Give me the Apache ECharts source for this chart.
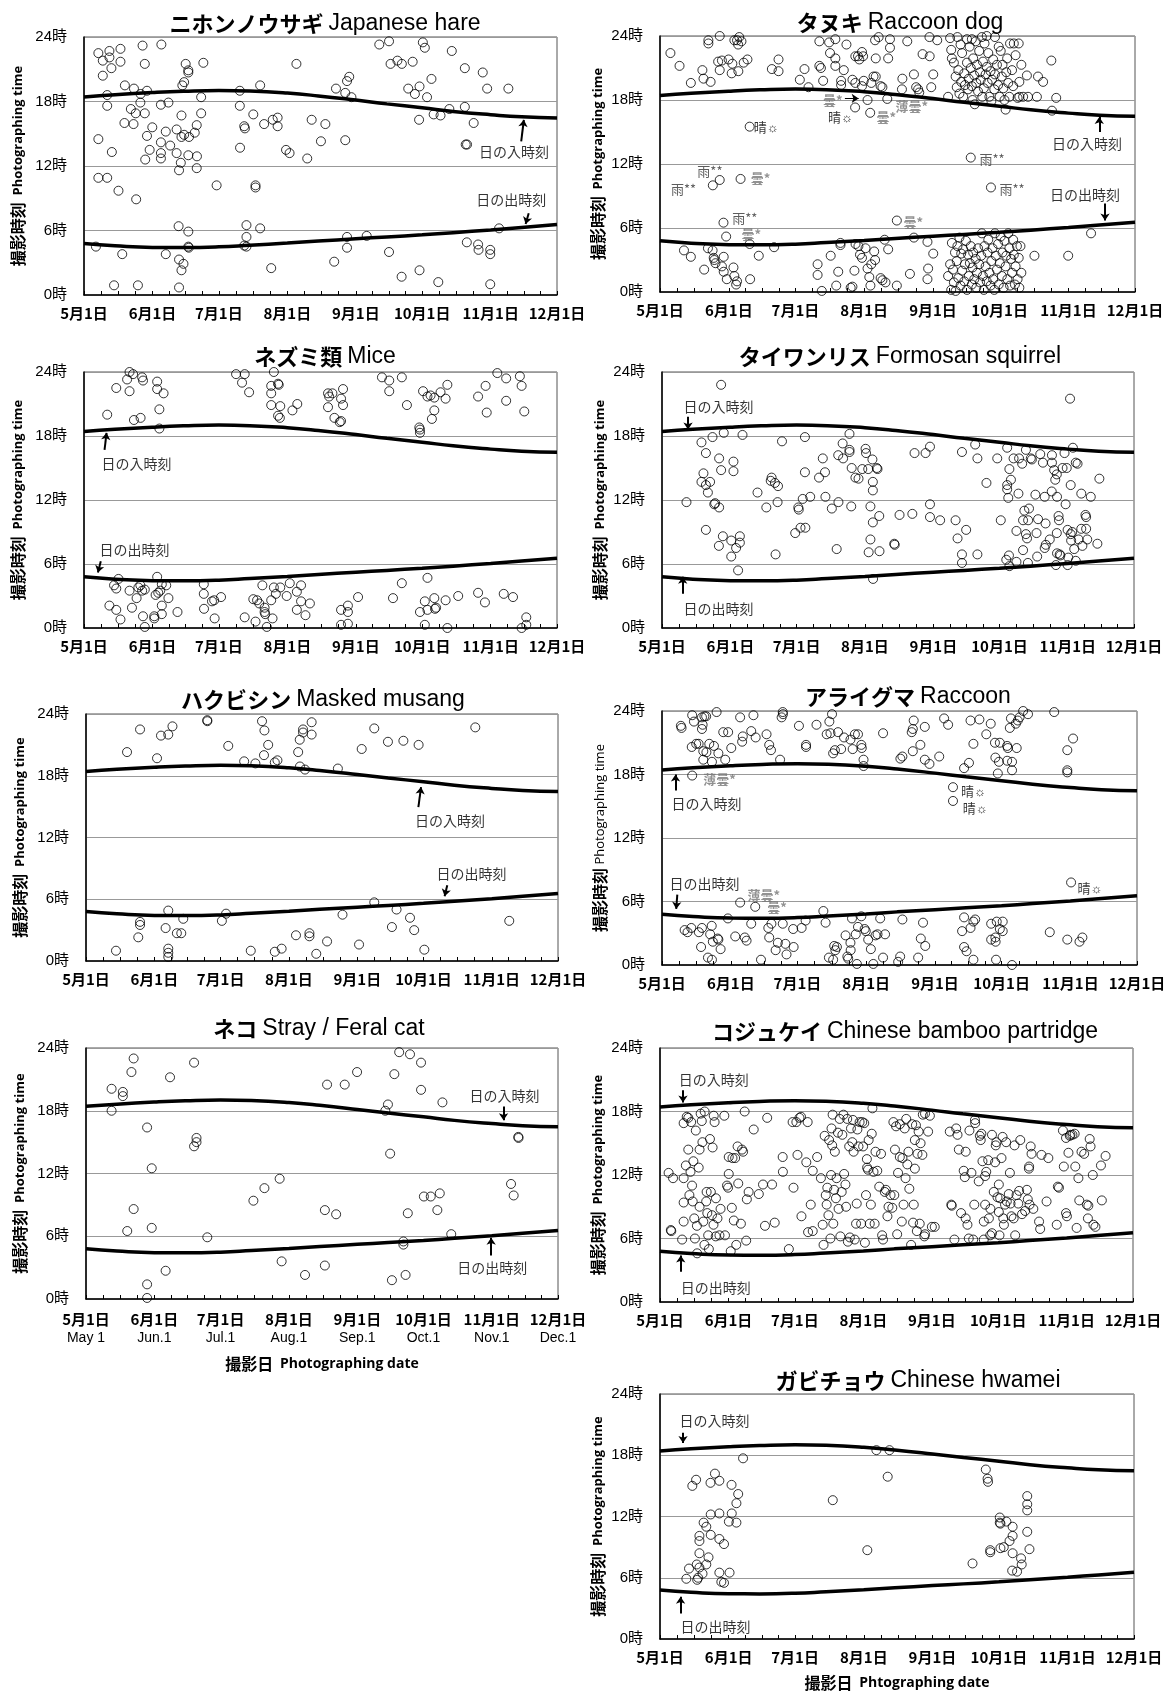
<!DOCTYPE html>
<html>
<head>
<meta charset="utf-8">
<script src="https://cdn.jsdelivr.net/npm/echarts@6/dist/echarts.min.js"></script>
<style>
  body { margin: 0; background: #fff; }
  #chart { width: 1172px; height: 1692px; }
</style>
</head>
<body>
<div id="chart"></div>
<script>
// x = days counted from May 1, y = hour of day
const monthDays = [0, 31, 61, 92, 123, 153, 184, 214];
const monthLabels = ['5月1日', '6月1日', '7月1日', '8月1日', '9月1日', '10月1日', '11月1日', '12月1日'];
const monthLabelsEn = ['May 1', 'Jun.1', 'Jul.1', 'Aug.1', 'Sep.1', 'Oct.1', 'Nov.1', 'Dec.1'];

const sunDays = [0, 14, 31, 45, 61, 75, 92, 106, 123, 137, 153, 167, 184, 198, 214];
const sunsetHours = [18.42, 18.63, 18.83, 18.95, 19.02, 18.97, 18.78, 18.52, 18.13, 17.78, 17.42, 17.08, 16.77, 16.57, 16.47];
const sunriseHours = [4.8, 4.58, 4.43, 4.42, 4.48, 4.63, 4.83, 5.02, 5.23, 5.4, 5.6, 5.8, 6.05, 6.28, 6.55];

const hare = [
  [6.5,22.5],[8.5,21.8],[11.5,22.7],[11.5,22.1],[12.4,21.1],[16.5,22.9],[16.5,21.7],[8.5,20.4],[26.5,23.2],[27.5,21.5],
  [35,23.3],[18.5,19.5],[22.6,19.2],[25.6,18.7],[28.5,19],[10.5,18.6],[10.5,17.6],[25.5,17.9],[21.2,17.3],[23.4,16.9],
  [27.5,16.9],[18.3,16],[22.4,15.9],[30.9,15.6],[28.5,14.8],[34.8,17.7],[38.2,17.9],[37,15.2],[34.8,14.2],[39,13.9],
  [34.8,13.2],[34.8,12.7],[41.9,13.2],[41.9,15.4],[44.1,16.7],[29.7,13.5],[27.7,12.6],[12.6,13.3],[6.5,14.5],[6.5,10.9],
  [10.5,10.9],[15.6,9.7],[23.6,8.9],[44.1,14.7],[45.3,14.9],[47.5,14.7],[50.1,15.1],[51,15.8],[47.2,13],[51.1,12.9],
  [43.8,12.3],[43,11.6],[51,11.8],[44.5,19.5],[45.3,19.8],[46,21.5],[47.2,20.9],[47.2,20.7],[54,21.6],[53,18.4],
  [53,16.9],[60,10.2],[70.5,19],[70.5,17.6],[70.6,13.7],[72.5,15.7],[72.8,15.5],[76.6,16.8],[77.6,10.2],[77.6,10],[79.7,19.5],
  [81.5,15.9],[85.4,16.3],[87.6,16.5],[87.6,15.7],[91.4,13.5],[93,13.2],[96.1,21.5],[101,12.7],[103,16.3],[107.2,14.3],
  [109.2,15.9],[114,19.2],[118.2,18.8],[118.2,14.4],[119,19.9],[120,20.3],[121,18.4],[133.6,23.3],[138,23.6],[138.7,21.5],
  [141.8,21.8],[143.8,21.5],[148.7,21.7],[153.3,23.5],[154.2,23],[146.7,19.2],[149.7,18.7],[151.8,19.4],[155.2,18.4],[157.2,20.1],
  [151.6,16.3],[158.2,16.8],[161.3,16.7],[165.3,17.3],[166.4,22.7],[172.3,21.1],[172.3,17.5],[172.7,14],[173.3,14],[176.3,16],
  [180.4,20.7],[182.4,19.2],[192,19.2],
  [5.4,4.5],[13.6,0.9],[17.3,3.8],[24.4,0.9],[37,3.8],[42.8,6.4],[43,3.3],[44.1,2.3],[45,2.9],[47.2,5.9],
  [47.2,4.5],[47.4,4.4],[43,0.7],[73.5,6.5],[73.5,5.4],[73.5,4.5],[72.5,4.6],[79.7,6.2],[84.7,2.5],[113.2,3.1],[119,5.4],
  [119,4.4],[127.9,5.5],[138,4],[143.7,1.7],[151.8,2.3],[160.3,1.2],[173.2,4.9],[178.3,4.7],[178.5,4.2],[183.8,4.2],
  [183.8,3.8],[183.8,1],[187.8,6.2]
];

const tanuki = [
  [4.7,22.4],[8.8,21.2],[13.9,19.6],[19.1,20.8],[19.6,20],[22.8,19.7],[21.8,23.6],[21.8,23.3],[26.9,24],[26.2,21.6],
  [27.9,21.7],[26.9,20.8],[30.9,21.8],[32.6,21.4],[32.3,20.5],[35.3,20.7],[33.5,23.6],[34.7,23.6],[35.7,23.9],[35.2,23.2],
  [36.7,23.5],[37.7,21.5],[39.4,21.8],[50.4,20.9],[53.4,21.8],[53.4,20.7],[63,19.9],[65.1,20.9],[66.9,19.2],[71.8,23.5],
  [71.8,21.2],[72.5,21],[73.5,19.8],[76.2,23.4],[76.6,22.4],[79,23.7],[79,21.9],[79,21.2],[81.6,19.8],[81.6,19.4],
  [82.8,20.8],[84,23.2],[86.7,19.9],[88,22.1],[88,19.6],[89.2,22.1],[89.8,21.8],[91,22.5],[91.5,22.1],[91.8,19.8],
  [91,19.3],[95.2,19.6],[96.2,20.2],[96.9,23.6],[97.2,20.2],[97.2,21.9],[98.5,23.9],[99.4,19.3],[100.2,19.2],[102.8,21.9],
  [103.6,23.7],[103.6,22.9],[109.2,20],[109,19],[111.4,23.5],[114.4,20.4],[115.4,19.2],[116.3,19],[116.8,18.7],[118.3,22.3],
  [121.5,22.1],[121.4,23.9],[122.2,19.2],[123.1,20.4],[124.9,23.6],[93.5,18],[102.4,18.1],[87.9,17.3],[94.7,16.8],
  [129.8,18.3],[130.7,23.8],[131.2,22.7],[131.5,21.9],[132.4,21.5],[133.2,20.2],[133.7,19.2],[134,23.9],[134.4,20.8],[134.9,18.6],
  [135.4,23.2],[135.7,19.7],[136.1,22.4],[136.6,18.3],[137.1,20.5],[137.4,19.4],[138.3,23.7],[138.3,21.5],[138.8,19],[139.1,20],
  [139.5,23],[140,21],[140.5,23.7],[140.5,19.3],[140.8,18],[141.1,21.9],[141.6,20.3],[141.8,17.6],[142.2,23.5],[142.5,19.6],
  [142.8,21.3],[143.3,18.8],[143.8,22.6],[144.2,20.6],[144.5,19.9],[145,23.9],[145.2,18.3],[145.5,21.6],[145.9,19.1],[146.2,23.3],
  [146.7,20.4],[147.2,24],[147.2,21.1],[147.6,19.6],[147.9,22.4],[148.4,18.3],[148.9,20.7],[149.3,17.9],[149.6,19.9],[150.1,21.8],
  [150.6,19],[150.9,23.9],[150.9,20.4],[151.8,21.3],[152.3,19.4],[152.6,23],[153,18.3],[153.5,22.6],[154,20.2],[154.3,21.3],
  [154.7,19.1],[155.2,18],[155.7,17.1],[156,20.6],[156.4,21.9],[156.9,19.6],[157.4,18.3],[157.7,23.3],[158.6,20.8],[159.1,19.3],
  [159.4,23.3],[160.2,22.2],[161.1,18.2],[161.6,23.3],[161.9,19.7],[162.8,21.3],[163.6,18.3],[161.9,18.3],[165.8,18.3],[165.3,20.3],
  [169.8,18.3],[170.3,20.2],[172.6,19.7],[176.3,21.7],[176.6,17],[178.5,18.2],
  [40.4,15.5],[23.8,10],[26.9,10.5],[36.3,10.6],[28.6,6.5],[29.8,5.2],[106.7,6.7],[140,12.6],[149.1,9.8],
  [10.8,3.9],[13.9,3.3],[19.9,2.1],[21.6,4.1],[23.7,3.9],[24.2,3.2],[24.5,3],[25,2.7],[27.9,2.4],[28.7,3.3],
  [28.7,1.9],[30.1,1.2],[33.1,2.3],[33.5,1.5],[34.3,0.7],[34.7,1],[40.4,4.5],[40.6,1.2],[44.5,3.4],[51.4,4.2],
  [71,2.6],[71,1.6],[72.9,0.1],[76.9,3.4],[79.4,0.6],[80.3,1.9],[81.3,4.4],[81.3,4.6],[85.9,0.4],[86.7,0.5],
  [87.6,2],[88.1,4.5],[89.4,4.3],[90.1,3.5],[91,3.2],[92.6,4.1],[93.5,2.2],[94.3,1.4],[94.8,0.6],[95.2,2.6],
  [96.5,3.8],[96.9,3],[99.4,1.3],[100.2,1.1],[101.6,0.9],[102.8,4],[101.2,4.9],[106.7,0.6],[112.6,1.7],[114.4,5.1],
  [120.5,4.7],[120.8,2.2],[120.5,1.2],[123.1,3.6],
  [129.8,1.5],[130.7,2.6],[131.2,0.2],[131.5,4.6],[132,2.1],[132.4,0.9],[132.9,3.7],[133.2,0.1],[133.7,2.9],[134,4.3],
  [134.4,1.3],[134.9,5.1],[135.4,0.6],[135.7,3.6],[136.1,2],[136.6,4],[137.1,1],[137.4,2.6],[137.8,4.8],[138.3,0.2],
  [138.8,3.5],[139.1,1.5],[139.6,2.7],[140,4.3],[140.5,0.7],[140.8,2.3],[141.1,3.7],[141.6,1.2],[142.2,3.1],[142.5,0.4],
  [142.8,1.8],[143.3,4.1],[143.8,2.6],[144.2,0.9],[144.7,3.4],[145,5.5],[145.5,1.5],[145.9,0.2],[146.2,4.3],[146.7,2.4],
  [147.2,1],[147.6,3.7],[147.9,4.9],[148.4,1.8],[148.9,0.6],[149.3,2.9],[149.8,4.1],[150.1,1.2],[150.6,0.2],[150.9,5.5],
  [151.3,3.4],[151.8,2.1],[152.3,4.5],[152.6,0.7],[153.1,2.7],[153.5,5.2],[154,1.5],[154.3,3.7],[154.8,0.4],[155.2,4.8],
  [155.7,2.4],[156,3.4],[156.5,1.2],[156.9,5.5],[157.4,4.1],[157.7,0.6],[158.2,3.1],[158.6,1.8],[159.1,4.9],[159.4,3.5],
  [159.9,0.7],[160.2,2.4],[160.8,4.3],[161.1,1.2],[161.6,3.2],[161.9,0.4],[162.4,4.3],[162.8,1.8],
  [168.7,3.4],[183.9,3.4],[194.2,5.5]
];

const mice = [
  [10.5,20],[14.6,22.5],[19.5,23.3],[20.6,24],[20.6,22.2],[22.2,23.8],[22.6,19.5],[25.6,19.7],[26.3,23.5],[26.7,23.2],
  [33.1,23.1],[33.1,22.4],[36,22],[34.1,20.5],[34.1,18.7],[68.8,23.8],[71.5,23],[72.7,23.8],[74.7,22.1],[84.7,22.7],
  [84.7,22],[85.9,24],[87.8,22.9],[88.1,22.8],[84.7,20.9],[88.8,20.8],[87.8,19.9],[88.6,19.7],[94.3,20.4],[96.5,21],
  [110.4,22],[110.9,21.7],[112.4,22],[110.4,20.7],[117.2,22.4],[116.3,21.5],[117.2,20.9],[113.3,19.7],[115.7,19.3],[116.3,19.4],
  [134.8,23.5],[138.1,23.2],[143.8,23.5],[138.1,22.2],[146.1,20.9],[153.4,22.2],[155.4,21.7],[156.8,21.8],[158.5,21.6],[161.3,22.1],
  [164.4,22.8],[163.6,21.5],[158.5,20.4],[157.4,19.6],[151.7,18.8],[152,18.6],[152,18.3],[178.3,21.7],[181.7,22.7],[182.2,20.2],
  [187,23.9],[191,23.4],[191,21.3],[197.2,23.6],[198,22.7],[199.2,20.3],
  [11.5,2.1],[14.6,1.7],[16.5,0.8],[13.6,4],[14.6,3.7],[15.6,4.6],[20.6,3.5],[21.7,1.9],[23.8,2.8],[24.6,3.8],
  [25.5,4],[26.3,3.5],[27.5,3.6],[26.7,1.1],[27.5,0.1],[31.8,1.1],[31.8,0.9],[33.1,4.8],[32.4,3.1],[33.6,3.3],
  [34.5,3.5],[35.2,4.1],[35.2,2.1],[35.2,1.3],[37.2,4],[38.2,2.8],[42.3,1.5],[54.2,4.1],[54.2,3.2],[54.3,1.8],
  [57.9,2.5],[58.9,2.6],[59.1,0.9],[62,2.9],[72.7,1],[76.6,2.7],[77.6,0.6],[78.3,2.6],[79.3,2.3],[80.7,4],
  [81.7,1.9],[81.7,1.5],[82,1.3],[82.7,0.1],[84.7,2.6],[85.3,0.9],[85.9,3.8],[86.8,3.2],[88.8,3.8],[91.7,3],
  [93.1,4.2],[96.3,3.4],[96.3,1.7],[98.2,4],[98.2,2.5],[100.2,1.2],[102.2,2.3],[116.3,1.7],[116.3,0.3],[119.4,2.1],
  [119.4,1.5],[119.4,0.4],[124,2.9],[139.8,2.8],[143.8,4.2],[152,1.5],[154.2,0.3],[154.2,2.5],[155.4,4.7],[155.4,1.7],
  [158.5,2.8],[158.8,1.8],[159.3,1.9],[163.6,2.6],[164.4,0],[169.3,3],[178.3,3.3],[181.4,2.4],[189.9,3.2],[194.1,2.9],
  [198,0],[200.1,1],[200.1,0.3]
];

const squirrel = [
  [26.8,22.8],[11.1,11.8],[17.9,17.4],[19.9,16.4],[22.9,17.9],[28,18.3],[36.5,18.1],[25.9,15.9],[26.8,14.8],[32.4,15.6],
  [32.4,14.7],[17.9,13.7],[18.8,14.5],[19.9,13.4],[20.8,12.7],[21.8,13.7],[23.7,11.6],[24.1,11.7],[25.9,11.3],[19.9,9.2],[27.6,8.6],
  [25.8,7.7],[31.4,8.2],[31.4,6.7],[33.6,7.5],[35.3,8.6],[35.3,8],[34.5,5.4],[43.3,12.7],[47.3,11.3],[49.3,13.8],
  [49.7,14.1],[51.2,13.6],[52.6,13.3],[52.4,11.8],[51.5,6.9],[54.4,17.5],[60.4,8.9],[61.8,11.3],[62,11.1],[62.8,9.4],[63.8,12.1],
  [64.8,17.9],[64.8,14.6],[65,9.4],[67.2,12.3],[71.2,14.1],[72.9,15.9],[73.9,14.6],[74.1,12.3],[77,11.2],[79.2,7.4],
  [79.9,16.2],[80,11.8],[81.9,17.3],[82.1,15.9],[85,18.2],[85,16.7],[85,16.5],[86,15],[85.8,11.4],[87.7,14.1],
  [89.1,14],[90.8,14.9],[92.3,16.8],[92.5,16.4],[93.5,14.9],[93.7,7.1],[94.5,8.3],[94.5,11.4],[95.4,15.8],[95.6,13.7],
  [95.6,12.9],[95.6,9.9],[95.7,4.6],[97.4,15],[97.7,14.9],[98.5,10.5],[98.6,7.2],[105.3,7.9],[105.5,7.8],[107.7,10.6],[113.5,10.7],
  [114.5,16.4],[119.5,16.4],[121.5,17],[121.5,11.6],[121.5,10.4],[126.1,10.1],[133.1,10.1],[134,8.4],[136,16.5],[136,6.9],
  [136,6.1],[137.9,9.2],[142,17.2],[143,15.9],[143,6.9],[147.1,13.6],[152,15.9],[153.6,10.1],[156.5,16.9],[157.5,14.9],
  [156.5,13.4],[156.5,13],[157,12.2],[156.1,6.4],[157.3,6.8],[157.5,5.8],[158.2,13.9],[159.4,15.9],[160.7,9.1],[160.7,6.2],
  [161.6,12.6],[161.9,15.9],[163.3,15.4],[163.7,7.3],[163.7,10.1],[164.3,11],[165,16.7],[165,8.8],[165.5,8.4],[165.9,6.1],
  [166,10.1],[166.4,11.2],[167.2,15.9],[167.7,15.8],[169.3,12.5],[169.8,8.9],[170.1,6.7],[170.5,10.2],[171.5,16.3],[172.7,15.5],[173.5,12.3],
  [173.9,9.8],[174,7.8],[173.5,7.5],[175.8,8.3],[176.7,12.8],[176.8,16.2],[176.8,15.5],[177.8,14.8],[178.3,13.9],[179,14.4],
  [179,8.9],[179.1,7],[178.6,5.9],[179.1,12.3],[179.8,10.5],[180,10.1],[180.3,6.9],[180.6,6.8],[181.6,15],[182.5,16.4],[183,11.6],
  [183.5,15],[183.9,9.2],[183.9,5.9],[184.2,6.6],[185,21.5],[185.3,13.4],[185.3,8.8],[185.5,8.2],[186.3,16.9],[186,9],
  [186.9,7.4],[187.6,15.5],[187.6,6.3],[188.4,15.4],[188.9,8.3],[190.1,12.6],[190.1,9.3],[190.6,7.7],[192,10.6],[192.3,10.4],[192.3,9.3],
  [192.8,8.3],[194.4,12.3],[197.4,7.9],[198.3,14]
];

const musang = [
  [18.6,20.3],[24.5,22.5],[32.2,19.7],[34,21.9],[37.3,22],[39.2,22.8],[55,23.4],[55,23.3],[64.5,20.9],[71.7,19.4],[76.8,19.2],
  [79.8,23.3],[80.9,22.4],[80.7,20],[82.6,21],[85.6,19.3],[86.8,19.5],[96.2,20.3],[96.9,21.5],[98.4,22.5],[98.4,22.2],
  [97,18.9],[99.3,18.6],[102.3,23.2],[102.3,22],[114.2,18.7],[125,20.6],[130.7,22.6],[136.9,21.3],[143.9,21.4],[150.8,21],
  [176.5,22.7],
  [13.6,1],[23.7,2.3],[24.5,3.8],[24.5,3.5],[36.1,3.2],[37.3,4.9],[37.3,1.2],[37.3,0.8],[37.3,0.4],[41.2,2.7],
  [43.2,2.7],[44.1,4.1],[61.6,3.9],[63.5,4.6],[74.7,1],[85.6,0.9],[88.7,1.2],[95.2,2.5],[101.3,2.7],[101.3,2.4],
  [104.4,0.7],[109.3,1.9],[116.3,4.5],[123.8,1.6],[130.7,5.7],[138.7,3.3],[140.8,5],[146.9,4.2],[148.8,3],[153.4,1.1],
  [191.9,3.9]
];

const raccoon = [
  [8.5,22.6],[8.8,22.4],[13.6,23.6],[14.4,23],[18,23.4],[19.1,23.5],[19.9,23.5],[18.3,22.7],[18,22.3],[13.4,20.6],[15.4,20.9],
  [16.5,20.9],[18.6,20.2],[20,20.1],[21.3,20.9],[23.4,20.7],[18.6,19.4],[22.5,19.2],[25.4,20],[27.6,22],[29.8,22],
  [28.5,19.4],[31.2,20.5],[24.6,23.9],[35.2,23.4],[36.1,21.1],[36.4,21.6],[40.2,22.1],[41.2,23.6],[42.2,21.5],[47.1,21.8],
  [48.3,20.8],[49.1,20.3],[53.2,19.4],[53.9,23.4],[54.4,23.9],[54.5,23.7],[61.7,22.6],[64.9,20.8],[64.9,20.6],[69.6,22.7],[74.2,21.8],
  [75.4,23],[75.9,21.9],[76.6,23.7],[77.1,20],[77.9,20.3],[79.3,22],[80.7,20.4],[82,21.5],[84.9,21.3],[85.9,20.4],
  [86.9,21.8],[88.3,21.8],[89.8,20.8],[90,20.5],[90.8,19.4],[90.8,18.8],[99.6,21.9],[107.4,19.5],[108.3,19.7],[113,20.2],
  [113.4,23.1],[112.5,22],[113,22.3],[116.4,20.8],[118.4,22.5],[118.4,19.4],[120.5,19],[124.9,19.7],[127.1,23.3],[128.9,22.7],
  [136.1,18.6],[138.3,19.1],[139,23.1],[140.3,20.9],[143,23.2],[146.1,21.8],[148.1,22.8],[150,21],[150.2,19.6],[151.3,18.1],
  [151.8,19.2],[152.2,21],[155.5,20.7],[155.8,20.5],[155.5,19.3],[156.7,22.4],[157.2,23.3],[157.7,18.4],[157.7,19.2],[159.4,22.8],
  [160.3,23.1],[159.8,20.5],[161.1,23.4],[162.7,24],[164.9,23.7],[176.7,23.9],[182.6,20.3],[182.6,18.4],[182.6,18.2],[185.2,21.4],
  [13.6,17.9],[131.1,16.8],[131.1,15.5],[184.3,7.8],[35.2,5.9],[42,5.5],
  [10.2,3.3],[11.5,3.1],[13.2,3.5],[18,3.5],[16.6,3.1],[17.6,1.7],[20.7,0.7],[22.5,0.5],[22.4,3.7],[21.7,2.9],
  [22.9,2.2],[25.4,2.4],[25.1,2.5],[26.4,1.5],[29.7,4.4],[33,2.7],[37.3,2.6],[38.1,2.3],[40.2,3.9],[44.6,0.5],
  [47.9,3.5],[48.3,2.6],[49.3,3.9],[51.2,1.4],[52.2,2.1],[54.4,3.9],[55.6,2],[56.1,1],[59.3,1.7],[59.1,3.4],
  [62.9,3.5],[64.7,4.2],[72.7,5.1],[73.7,4],[75.2,0.7],[77.1,0.5],[77.6,1.8],[78.1,1.4],[78.8,1.7],[82.7,2.8],
  [83.5,0.8],[83.9,0.6],[84.9,2.1],[85,1.4],[85.6,4.4],[87.3,2.9],[87.8,0.1],[88.3,3.6],[89.8,4.6],[91.3,3.4],
  [91.8,3.2],[92.9,2.4],[94.1,1.5],[95.2,0.1],[96.2,2.8],[97.1,2.9],[98.3,4.4],[99.6,0.7],[100.5,2.9],[106.4,0.3],
  [107.3,0.8],[108.3,4.3],[115.4,0.7],[116.6,2.5],[117.6,4],[118.6,1.8],[135.2,3.2],[136.1,4.5],[136.1,1.7],[137.2,1.3],
  [139,3.5],[140.3,4.1],[141.1,4.3],[140.3,0.5],[148.3,3.9],[148.3,2.4],[150.2,2.6],[150.3,2.2],[150.5,0.5],[150.8,4.1],
  [152.2,3.4],[153.5,4.1],[153.5,3.2],[157.7,0],[174.7,3.1],[182.6,2.4],[188.1,2.2],[189.4,2.6]
];

const cat = [
  [11.6,20.1],[11.6,18],[16.7,19.8],[16.7,19.4],[20.6,21.7],[21.6,23],[21.6,8.6],[18.7,6.5],[27.7,16.4],[29.8,12.5],
  [29.8,6.8],[27.7,1.4],[27.7,0.1],[36.1,2.7],[38.1,21.2],[49,22.6],[49,14.6],[50.1,15.4],[50.1,15],[55,5.9],
  [75.9,9.4],[80.9,10.6],[87.8,11.5],[88.7,3.6],[99.3,2.3],[108.3,3.2],[108.3,8.5],[109.3,20.5],[113.4,8.1],[117.3,20.5],
  [122.9,21.7],[135.7,18],[136.9,18.6],[137.9,13.9],[138.7,1.8],[139.8,21.5],[142,23.6],[143.9,5.5],[143.9,5.2],[144.9,2.3],
  [145.9,8.2],[146.9,23.4],[151.9,22.6],[151.9,20],[153.2,9.8],[156.3,9.8],[159.3,8.5],[160.4,10.1],[161.6,18.8],[165.6,6.2],
  [192.7,11],[193.9,9.9],[196,15.5],[196.1,15.4]
];

const partridge = [
  [3.9,12.2],[5.9,11.7],[4.9,6.8],[5.1,6.7],[10,5.9],[10.7,11.7],[10.7,16.9],[12.1,17.5],[12.8,17.4],[10.7,9.4],[10.7,7.6],
  [11.7,12.9],[12.8,14.4],[13.3,10.1],[13.8,12.3],[14.1,17],[14.5,11],[14.8,9.5],[15.1,13.3],[15.5,7.9],[15.8,6],
  [16.2,16.2],[16.7,7.2],[16.8,4.6],[17.5,12.7],[17.9,14.4],[17.9,9],[18.4,17.8],[18.9,17.1],[19.2,15.1],[19.6,7.6],
  [20.1,5.4],[20.2,18],[20.9,9.5],[21.1,10.4],[21.4,8.4],[21.8,6.3],[22.1,5],[22.6,15.4],[23,10.4],[23.5,8.2],
  [23.8,14.6],[24.2,7.3],[24.3,17.6],[24.7,17],[25.2,6.2],[25.3,9.8],[26,7.9],[26.9,6.3],[27.4,8.8],[29.1,17.6],
  [29.4,6.3],[30.3,11],[30.8,10.8],[31.1,13.7],[32,4.8],[31.1,12.1],[32.5,8.9],[32.8,13.6],[33.4,7.7],[34,13.6],
  [34.5,5.4],[35.4,11.2],[35.1,14.7],[37.1,14.4],[37.6,14.2],[39,5.8],[39.3,9.7],[36.6,7.4],[38.3,18],[40.1,10.4],
  [42.4,16.3],[44.7,10.2],[46.6,11.1],[47.5,7.2],[48.5,17.4],[50.7,11.1],[51.9,7.5],[55.6,12.3],[55.5,13.7],[58.3,5],
  [60.4,10.8],[60,17],[61.7,17],[62.2,13.9],[63.1,17.4],[63.8,17.5],[64,8.1],[66.2,13.2],[66.8,17],[67,6.6],[68.2,9.2],
  [69.1,12.4],[69.1,6.7],[71.1,13.7],
  [72.8,11.7],[73.6,7.3],[74,5.4],[74.5,15.7],[75,10.1],[75.4,9.2],[75.7,10.8],[76.2,8.2],[76.5,15.3],[77.1,6],
  [77.4,12],[77.6,16.4],[77.9,14.8],[78.4,7.4],[78.1,17.7],[78.8,10.6],[79.1,14.2],[79.6,9.8],[79.9,11.7],[80.5,16],
  [80.8,8.8],[81.3,17.3],[81.6,6.2],[82.2,10.4],[82.5,15.8],[83,17.7],[83.3,12.1],[83.9,11.1],[84.2,9],[84.7,17.3],
  [85,5.7],[85.6,14.7],[85.9,6.1],[86.4,16.4],[87,15.1],[87.3,17.2],[87.6,14.2],[88.1,5.9],[88.7,7.4],[89,9.3],
  [89.3,16.3],[89.8,14.7],[90.3,17],[91,7.4],[91.5,17],[91.9,14.7],[92.4,16.9],[92.7,5.6],[93.2,10.1],[93.6,13.5],
  [93.7,12.7],[94.1,12.5],[94.4,15.3],[94.9,7.4],[95.4,9.2],[95.8,15.9],[96.1,18.3],[96.6,12.3],[97.1,7.4],[97.5,14.2],
  [98.3,12.4],[99.2,10.9],[100,14],[100.5,6.3],[100.9,5.9],[101.7,10.4],[102.2,10.6],[102.9,8.1],[103.4,9],[104.3,10.1],
  [105.1,8.9],[105.6,17],[106,10.1],[106.3,14.4],[106.8,16.6],[107.3,6.4],[107.7,12.2],[108.5,13.7],[108.5,16.8],[109.4,7.6],
  [109.7,13.6],[110.2,9.2],[110.7,16.4],[111.1,11.7],[111.4,17.3],[111.9,13],[112.4,14.2],[112.8,10.7],[113.6,5.4],[114.1,16.8],
  [114.5,7.5],[114.8,9.2],[115.3,15.3],[115.3,12.6],[115.8,16.7],[116.2,6.7],[116.5,14],[117,16.1],[117.5,7.4],[117.9,15],
  [118.7,13.9],[118.9,17.7],[119.6,6.2],[119.9,17.8],[121.3,16.1],[122.1,17.6],[123,7.1],[124.3,7.1],[119.9,6.4],
  [131.1,16.1],[131.8,9.2],[132,9.1],[133.2,5.9],[134,16.4],[134.6,15.8],[135.2,14.4],[136.2,8.4],[137.4,12.4],[137.9,11.8],
  [138.3,14.2],[138.3,7.9],[139.1,7.3],[139.7,6],[140,16.2],[140.9,12.2],[141.7,5.9],[142.2,9.2],[142.5,17.2],[142.6,16.9],
  [144.2,11.4],[144.7,15.7],[145.1,15.3],[145.4,15.9],[145.9,13.3],[146.5,5.9],[146.5,7.6],[147.1,9.2],[147.1,11.9],[147.6,12.3],
  [148.5,13.4],[148.8,7.9],[149.4,6.3],[149.5,8.8],[150.2,15.8],[150.2,6.5],[151,10.4],[151.6,13.2],[151.9,14.8],[152.2,15.1],
  [152.7,9.9],[153.3,11.1],[153.3,8.5],[153.6,6.3],[153.9,9.8],[154.5,13.6],[155,15.6],[155.3,7.9],[155.6,7.3],[156.1,9.2],
  [156.6,15.1],[156.9,9.5],[157.8,10.2],[158.3,12.2],[158.6,9.3],[159,8.1],[160,7.9],[160.4,14.8],[160.7,6.3],[161.3,10.1],
  [162.1,9.3],[162.5,10.5],[163,15.3],[163.8,8.3],[165.2,8.6],[166,10.6],[166.4,9.7],[166.9,12.6],[167,12.8],[167.2,9.2],
  [167.7,14.7],[168.1,14],[168.9,8.8],[171.5,7.6],[172,6.9],[172.6,13.9],[174.9,9.5],[175.7,13.6],[179.5,7.3],[180,10.9],
  [180.5,10.8],[182.3,16.2],[182.7,12.8],[183.7,15.5],[183.7,8.4],[184.1,8.1],[184.8,14.1],[185.4,15.7],[185.7,15.8],[186.6,15.8],
  [187.6,15.9],[187.9,12.8],[188.5,7],[189.3,11.7],[189.7,9.6],[190.7,14.2],[191.9,14],[193.1,9.2],[193.6,7.9],[193.8,9.1],
  [194.4,15.4],[194.8,14.7],[195.8,12],[196.1,7.3],[197,7.1],[199.5,12.9],[199.9,9.6],[201.6,13.8]
];

const hwamei = [
  [11.9,5.9],[13.1,6.9],[14.6,15],[16.3,15.6],[16.6,7.3],[16.8,5.8],[17.2,6],[17.8,7],[17.8,8.4],[17.8,9.6],
  [17.8,10.1],[19.2,6.4],[19.7,11.4],[20.9,11],[20.9,7.3],[21.9,8],[22.9,10.2],[22.9,12.2],[22.8,15.3],[24.8,16.2],
  [26.8,15.5],[26.8,12.3],[26.8,9.8],[26.8,6.5],[27.7,5.6],[28.9,9.3],[28.9,5.5],[31.1,11.5],[31.4,6.5],[32.3,15.1],
  [32.4,12.3],[34.5,11.4],[34.5,13.3],[35.3,14.2],[37.5,17.7],
  [78,13.6],[93.6,8.7],[97.7,18.5],[102.8,15.9],[103.6,18.5],
  [141.1,7.4],[147.1,16.6],[147.9,15.7],[148.1,15.4],[149.1,8.7],[149.1,8.5],[153.4,11.9],[153.4,11.4],[153.7,11.3],[153.7,8.9],
  [155.2,9],[156.4,11.5],[157.8,9.6],[159.2,11],[159.2,10.1],[159.2,8.4],[159,6.7],[161.2,6.6],[163,7.9],[163.3,7.3],
  [165.8,14],[165.8,13.2],[165.8,12.6],[165.8,10.5],[166.8,8.8]
];

// annotations: [day, hour, text, kind]  n = curve name, s = sunny, r = rain, c = cloudy
const hareNotes = [[194.5, 13.3, '日の入時刻', 'n'], [193.3, 8.9, '日の出時刻', 'n']];
const hareArrows = [[[197.8, 14.3], [199, 16.3]], [[201.2, 7.6], [199.8, 6.6]]];
const tanukiNotes = [
  [192.4, 13.95, '日の入時刻', 'n'], [191.5, 9.1, '日の出時刻', 'n'],
  [47.8, 15.45, '晴☼', 's'], [10.6, 9.65, '雨**', 'r'], [22.5, 11.3, '雨**', 'r'], [45.3, 10.65, '曇*', 'c'],
  [38.2, 6.95, '雨**', 'r'], [41.1, 5.45, '曇*', 'c'], [114.1, 6.6, '曇*', 'c'], [149.6, 12.45, '雨**', 'r'],
  [158.6, 9.65, '雨**', 'r'], [77.9, 18, '曇*', 'c'], [81.3, 16.4, '晴☼', 's'], [101.9, 16.4, '曇*', 'c'],
  [113.4, 17.4, '薄曇*', 'c']
];
const tanukiArrows = [[[197.9, 15.0], [197.9, 16.4]], [[200.5, 8.3], [200.5, 6.7]], [[83.3, 18.15], [89.5, 18.15], 1]];
const miceNotes = [[23.8, 15.4, '日の入時刻', 'n'], [22.9, 7.3, '日の出時刻', 'n']];
const miceArrows = [[[9.3, 16.7], [10.2, 18.3]], [[7.6, 6.25], [6.3, 5.2]]];
const squirrelNotes = [[25.6, 20.75, '日の入時刻', 'n'], [25.6, 1.85, '日の出時刻', 'n']];
const squirrelArrows = [[[11.8, 19.8], [11.8, 18.6]], [[9.4, 3.2], [9.4, 4.8]]];
const musangNotes = [[165, 13.65, '日の入時刻', 'n'], [174.8, 8.5, '日の出時刻', 'n']];
const musangArrows = [[[150.7, 14.95], [151.9, 16.9]], [[163.8, 7.35], [162.6, 6.3]]];
const raccoonNotes = [
  [20, 15.2, '日の入時刻', 'n'], [19.1, 7.65, '日の出時刻', 'n'], [25.9, 17.6, '薄曇*', 'c'],
  [140.3, 16.4, '晴☼', 's'], [141.1, 14.85, '晴☼', 's'], [192.8, 7.25, '晴☼', 's'],
  [45.9, 6.65, '薄曇*', 'c'], [51.8, 5.5, '曇*', 'c']
];
const raccoonArrows = [[[6.1, 16.5], [6.1, 18.0]], [[6.9, 6.65], [6.4, 5.3]]];
const catNotes = [[189.8, 19.4, '日の入時刻', 'n'], [184.2, 2.95, '日の出時刻', 'n']];
const catArrows = [[[189.3, 18.4], [189.3, 17.1]], [[183.7, 4.15], [183.7, 5.85]]];
const partridgeNotes = [[24.3, 21, '日の入時刻', 'n'], [25.2, 1.35, '日の出時刻', 'n']];
const partridgeArrows = [[[10.4, 20], [10.4, 18.85]], [[9.4, 2.85], [9.4, 4.4]]];
const hwameiNotes = [[24.6, 21.4, '日の入時刻', 'n'], [25.1, 1.2, '日の出時刻', 'n']];
const hwameiArrows = [[[10.4, 20.2], [10.4, 19.2]], [[9.3, 2.5], [9.3, 4.15]]];

const JP = "'Noto Sans CJK JP', sans-serif";
const EN = "'Liberation Sans', 'Noto Sans CJK JP', sans-serif";

const panels = [
  { jp: 'ニホンノウサギ', en: 'Japanese hare', box: [84, 37, 473, 258], cx: 320, ty: 7, data: hare, notes: hareNotes, arrows: hareArrows, yName: 'Photographing time' },
  { jp: 'タヌキ', en: 'Raccoon dog', box: [660, 36, 475, 256], cx: 895, ty: 6, data: tanuki, notes: tanukiNotes, arrows: tanukiArrows, yName: 'Photgraphing time' },
  { jp: 'ネズミ類', en: 'Mice', box: [84, 372, 473, 256], cx: 320, ty: 340, data: mice, notes: miceNotes, arrows: miceArrows, yName: 'Photographing time' },
  { jp: 'タイワンリス', en: 'Formosan squirrel', box: [662, 372, 472, 256], cx: 895, ty: 340, data: squirrel, notes: squirrelNotes, arrows: squirrelArrows, yName: 'Photographing time' },
  { jp: 'ハクビシン', en: 'Masked musang', box: [86, 714, 472, 247], cx: 318, ty: 683, data: musang, notes: musangNotes, arrows: musangArrows, yName: 'Photographing time' },
  { jp: 'アライグマ', en: 'Raccoon', box: [662, 711, 475, 254], cx: 903, ty: 680, data: raccoon, notes: raccoonNotes, arrows: raccoonArrows, yName: 'Photographing time', thin: true },
  { jp: 'ネコ', en: 'Stray / Feral cat', box: [86, 1048, 472, 251], cx: 314, ty: 1012, data: cat, notes: catNotes, arrows: catArrows, yName: 'Photographing time', en2: true, xName: 'Photographing date', xGap: 57 },
  { jp: 'コジュケイ', en: 'Chinese bamboo partridge', box: [660, 1048, 473, 254], cx: 900, ty: 1015, data: partridge, notes: partridgeNotes, arrows: partridgeArrows, yName: 'Photographing time' },
  { jp: 'ガビチョウ', en: 'Chinese hwamei', box: [660, 1394, 474, 245], cx: 913, ty: 1364, data: hwamei, notes: hwameiNotes, arrows: hwameiArrows, yName: 'Photographing time', xName: 'Phtographing date', xGap: 36 }
];

// tick marks: each month split in four
const tickDays = [];
for (let i = 0; i < monthDays.length - 1; i++) {
  for (let k = 0; k < 4; k++) tickDays.push(monthDays[i] + (monthDays[i + 1] - monthDays[i]) * k / 4);
}
tickDays.push(214);

const noteColor = { n: '#000', s: '#000', r: '#333', c: '#777' };

const grids = [], xAxes = [], yAxes = [], titles = [], series = [];

panels.forEach(function (p, i) {
  grids.push({
    left: p.box[0], top: p.box[1], width: p.box[2], height: p.box[3],
    show: true, borderColor: '#555', borderWidth: 1, containLabel: false, outerBoundsMode: 'none'
  });

  titles.push({
    text: '{a|' + p.jp + '} {b|' + p.en + '}',
    left: p.cx, top: p.ty, textAlign: 'center',
    textStyle: {
      rich: {
        a: { fontSize: 22, fontWeight: 'bold', fontFamily: JP, color: '#000' },
        b: { fontSize: 23, fontWeight: 'normal', fontFamily: EN, color: '#000' }
      }
    }
  });

  const xAxis = {
    gridIndex: i, type: 'value', min: 0, max: 214,
    axisLine: { show: true, onZero: false, lineStyle: { color: '#000', width: 1.5 } },
    axisTick: { show: true, inside: true, length: 4, customValues: tickDays, lineStyle: { color: '#000' } },
    splitLine: { show: false },
    axisLabel: {
      customValues: monthDays, margin: 11, fontSize: 15, fontWeight: 'bold', fontFamily: JP, color: '#000',
      formatter: function (v) {
        const k = monthDays.indexOf(v);
        if (p.en2) return '{a|' + monthLabels[k] + '}\n{b|' + monthLabelsEn[k] + '}';
        return monthLabels[k];
      },
      rich: {
        a: { fontSize: 15, fontWeight: 'bold', fontFamily: JP, color: '#000', lineHeight: 19 },
        b: { fontSize: 14, fontWeight: 'normal', fontFamily: EN, color: '#000', lineHeight: 19 }
      }
    }
  };
  if (p.xName) {
    xAxis.name = '{a|撮影日}  {b|' + p.xName + '}';
    xAxis.nameLocation = 'middle';
    xAxis.nameGap = p.xGap;
    xAxis.nameTextStyle = {
      rich: {
        a: { fontSize: 16, fontWeight: 'bold', fontFamily: JP, color: '#000' },
        b: { fontSize: 14, fontWeight: 'bold', fontFamily: "'Open Sans', sans-serif", color: '#000' }
      }
    };
  }
  xAxes.push(xAxis);

  yAxes.push({
    gridIndex: i, type: 'value', min: 0, max: 24, interval: 6,
    axisLine: { show: true, lineStyle: { color: '#000', width: 1.5 } },
    axisTick: { show: false },
    splitLine: { show: true, lineStyle: { color: '#999', width: 1 } },
    axisLabel: { formatter: '{value}時', fontSize: 15, fontFamily: EN, color: '#000', margin: 17 },
    name: '{a|撮影時刻}' + (p.thin ? ' ' : '  ') + '{b|' + p.yName + '}',
    nameLocation: 'middle', nameGap: p.box[0] < 300 ? 58 : 54,
    nameTextStyle: {
      rich: {
        a: { fontSize: 16, fontWeight: 'bold', fontFamily: JP, color: '#000' },
        b: { fontSize: 13, fontWeight: p.thin ? 'normal' : 'bold', fontFamily: "'Open Sans', sans-serif", color: '#000' }
      }
    }
  });

  series.push({
    type: 'line', xAxisIndex: i, yAxisIndex: i, smooth: true, symbol: 'none', silent: true,
    data: sunDays.map(function (d, k) { return [d, sunsetHours[k]]; }),
    lineStyle: { color: '#000', width: 3.5 }, z: 3
  });
  series.push({
    type: 'line', xAxisIndex: i, yAxisIndex: i, smooth: true, symbol: 'none', silent: true,
    data: sunDays.map(function (d, k) { return [d, sunriseHours[k]]; }),
    lineStyle: { color: '#000', width: 3.5 }, z: 3
  });
  series.push({
    type: 'scatter', xAxisIndex: i, yAxisIndex: i, data: p.data, symbol: 'circle', symbolSize: 9,
    itemStyle: { color: 'rgba(0,0,0,0)', borderColor: '#000', borderWidth: 1 }, z: 4
  });
  series.push({
    type: 'scatter', xAxisIndex: i, yAxisIndex: i, symbolSize: 0, silent: true, z: 5,
    data: p.notes.map(function (n) {
      return {
        value: [n[0], n[1]],
        label: { formatter: n[2], color: noteColor[n[3]], fontSize: n[3] === 'n' ? 14 : 13, fontWeight: n[3] === 'c' ? 'bold' : 'normal' }
      };
    }),
    label: { show: true, position: 'inside', fontFamily: JP }
  });
  series.push({
    type: 'lines', coordinateSystem: 'cartesian2d', xAxisIndex: i, yAxisIndex: i, silent: true, z: 5,
    symbol: ['none', 'arrow'], symbolSize: 7,
    data: p.arrows.map(function (a) {
      return { coords: [a[0], a[1]], lineStyle: { width: a[2] || 2 } };
    }),
    lineStyle: { color: '#000', width: 2, opacity: 1 }
  });
});

const chart = echarts.init(document.getElementById('chart'), null, { renderer: 'canvas' });
chart.setOption({
  backgroundColor: '#fff',
  animation: false,
  title: titles,
  grid: grids,
  xAxis: xAxes,
  yAxis: yAxes,
  series: series
});
</script>
</body>
</html>
